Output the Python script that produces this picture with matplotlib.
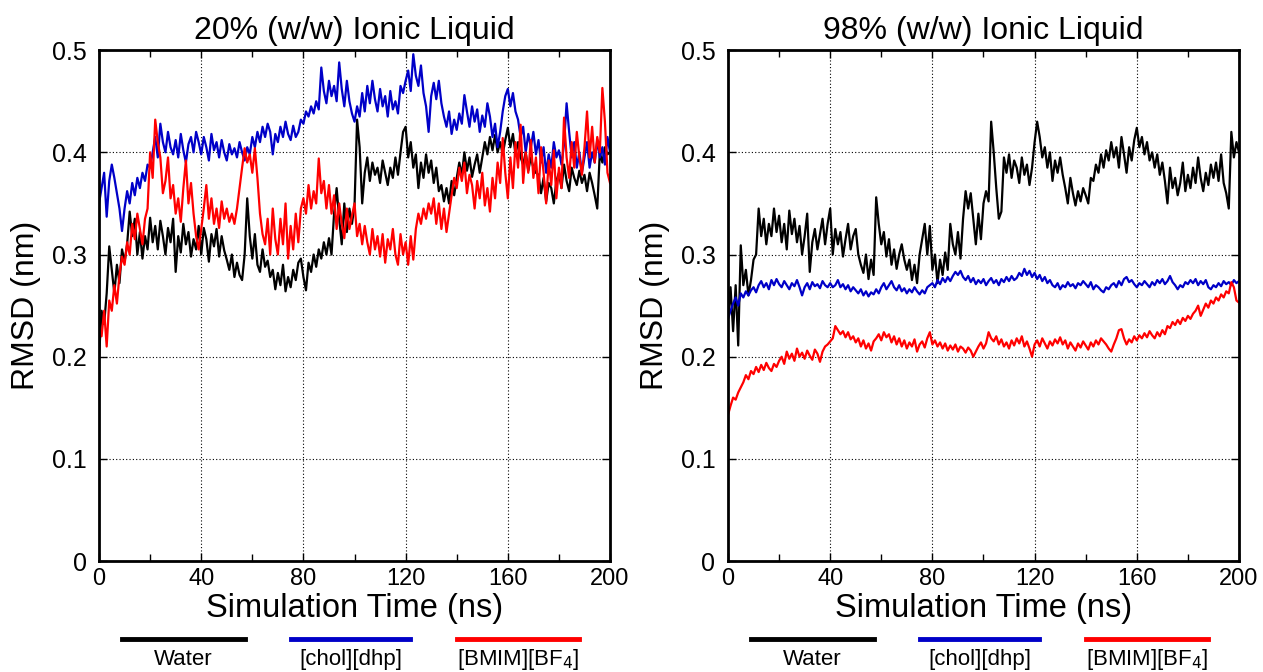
import numpy as np
import matplotlib
matplotlib.use("Agg")
import matplotlib.pyplot as plt

plt.rcParams['font.family'] = ['Liberation Sans', 'DejaVu Sans']

# ----------------------------------------
# data (RMSD in nm, one value per ns, 0..200 ns)
# ----------------------------------------
time_ns = np.arange(0, 201)

water_20 = [
	0.200, 0.245, 0.232, 0.262, 0.308, 0.285, 0.262, 0.290, 0.272, 0.305,
	0.293, 0.310, 0.342, 0.318, 0.335, 0.300, 0.322, 0.296, 0.318, 0.305,
	0.336, 0.312, 0.328, 0.305, 0.333, 0.318, 0.300, 0.326, 0.312, 0.335,
	0.283, 0.318, 0.302, 0.330, 0.310, 0.322, 0.298, 0.315, 0.305, 0.328,
	0.300, 0.326, 0.315, 0.293, 0.320, 0.308, 0.325, 0.298, 0.318, 0.304,
	0.295, 0.285, 0.300, 0.278, 0.292, 0.280, 0.275, 0.300, 0.355, 0.318,
	0.296, 0.320, 0.290, 0.283, 0.305, 0.288, 0.294, 0.278, 0.285, 0.266,
	0.282, 0.270, 0.290, 0.264, 0.278, 0.268, 0.285, 0.275, 0.292, 0.296,
	0.278, 0.265, 0.292, 0.283, 0.300, 0.288, 0.305, 0.296, 0.312, 0.300,
	0.316, 0.300, 0.340, 0.365, 0.335, 0.310, 0.350, 0.322, 0.345, 0.330,
	0.348, 0.432, 0.405, 0.350, 0.380, 0.395, 0.372, 0.390, 0.378, 0.385,
	0.370, 0.392, 0.380, 0.368, 0.385, 0.375, 0.395, 0.378, 0.400, 0.420,
	0.425, 0.395, 0.410, 0.385, 0.398, 0.365, 0.390, 0.375, 0.398, 0.380,
	0.392, 0.370, 0.385, 0.362, 0.368, 0.352, 0.365, 0.350, 0.372, 0.358,
	0.375, 0.390, 0.378, 0.400, 0.382, 0.395, 0.376, 0.388, 0.398, 0.380,
	0.395, 0.410, 0.398, 0.415, 0.402, 0.417, 0.400, 0.410, 0.398, 0.412,
	0.424, 0.405, 0.418, 0.398, 0.410, 0.395, 0.388, 0.400, 0.382, 0.395,
	0.385, 0.380, 0.378, 0.360, 0.375, 0.352, 0.370, 0.365, 0.350, 0.372,
	0.380, 0.365, 0.388, 0.372, 0.362, 0.385, 0.375, 0.368, 0.382, 0.370,
	0.378, 0.362, 0.380, 0.370, 0.358, 0.345, 0.400, 0.390, 0.405, 0.398,
	0.400]

chol_20 = [
	0.350, 0.365, 0.380, 0.337, 0.372, 0.388, 0.375, 0.360, 0.345, 0.323,
	0.345, 0.362, 0.350, 0.370, 0.358, 0.375, 0.365, 0.380, 0.372, 0.388,
	0.385, 0.400, 0.415, 0.395, 0.428, 0.410, 0.400, 0.420, 0.405, 0.398,
	0.412, 0.395, 0.418, 0.402, 0.390, 0.408, 0.415, 0.400, 0.420, 0.410,
	0.398, 0.415, 0.405, 0.392, 0.418, 0.402, 0.410, 0.395, 0.412, 0.400,
	0.392, 0.408, 0.398, 0.404, 0.395, 0.410, 0.400, 0.392, 0.405, 0.398,
	0.415, 0.405, 0.420, 0.410, 0.425, 0.415, 0.428, 0.420, 0.398, 0.418,
	0.410, 0.425, 0.415, 0.430, 0.418, 0.412, 0.426, 0.415, 0.420, 0.432,
	0.428, 0.440, 0.435, 0.445, 0.438, 0.450, 0.442, 0.483, 0.460, 0.448,
	0.470, 0.455, 0.465, 0.450, 0.488, 0.462, 0.445, 0.470, 0.450, 0.438,
	0.430, 0.445, 0.435, 0.458, 0.440, 0.465, 0.448, 0.470, 0.452, 0.440,
	0.462, 0.445, 0.455, 0.435, 0.460, 0.442, 0.450, 0.438, 0.465, 0.458,
	0.470, 0.480, 0.460, 0.496, 0.475, 0.465, 0.485, 0.458, 0.445, 0.420,
	0.455, 0.468, 0.452, 0.470, 0.448, 0.435, 0.425, 0.440, 0.418, 0.432,
	0.422, 0.438, 0.428, 0.456, 0.440, 0.425, 0.445, 0.430, 0.442, 0.420,
	0.436, 0.425, 0.448, 0.435, 0.415, 0.428, 0.405, 0.420, 0.440, 0.455,
	0.462, 0.445, 0.458, 0.440, 0.432, 0.415, 0.425, 0.400, 0.418, 0.405,
	0.420, 0.398, 0.412, 0.390, 0.405, 0.380, 0.398, 0.385, 0.410, 0.395,
	0.402, 0.388, 0.408, 0.448, 0.420, 0.395, 0.410, 0.385, 0.400, 0.380,
	0.395, 0.410, 0.385, 0.400, 0.390, 0.412, 0.395, 0.405, 0.388, 0.415,
	0.400]

bmim_20 = [
	0.230, 0.220, 0.245, 0.210, 0.255, 0.245, 0.270, 0.252, 0.280, 0.298,
	0.290, 0.312, 0.300, 0.330, 0.315, 0.340, 0.325, 0.310, 0.335, 0.345,
	0.400, 0.375, 0.432, 0.410, 0.395, 0.360, 0.372, 0.395, 0.355, 0.368,
	0.340, 0.355, 0.332, 0.365, 0.392, 0.350, 0.370, 0.340, 0.318, 0.305,
	0.325, 0.345, 0.368, 0.335, 0.355, 0.330, 0.345, 0.326, 0.352, 0.335,
	0.345, 0.332, 0.340, 0.330, 0.345, 0.365, 0.385, 0.404, 0.390, 0.398,
	0.380, 0.404, 0.375, 0.340, 0.320, 0.310, 0.335, 0.300, 0.345, 0.315,
	0.300, 0.335, 0.310, 0.350, 0.296, 0.328, 0.305, 0.340, 0.312, 0.345,
	0.355, 0.340, 0.368, 0.345, 0.362, 0.350, 0.394, 0.360, 0.372, 0.345,
	0.368, 0.340, 0.358, 0.325, 0.350, 0.330, 0.316, 0.345, 0.325, 0.338,
	0.350, 0.318, 0.330, 0.310, 0.328, 0.312, 0.300, 0.325, 0.305, 0.318,
	0.298, 0.320, 0.292, 0.315, 0.305, 0.325, 0.300, 0.290, 0.320, 0.300,
	0.312, 0.290, 0.318, 0.295, 0.325, 0.340, 0.330, 0.345, 0.335, 0.350,
	0.340, 0.355, 0.330, 0.350, 0.325, 0.345, 0.322, 0.340, 0.358, 0.375,
	0.365, 0.385, 0.372, 0.390, 0.360, 0.378, 0.368, 0.345, 0.372, 0.355,
	0.380, 0.348, 0.365, 0.342, 0.375, 0.355, 0.390, 0.370, 0.414, 0.380,
	0.355, 0.395, 0.365, 0.410, 0.385, 0.427, 0.370, 0.400, 0.380, 0.412,
	0.375, 0.395, 0.360, 0.405, 0.380, 0.350, 0.392, 0.368, 0.402, 0.355,
	0.385, 0.365, 0.434, 0.395, 0.375, 0.410, 0.385, 0.420, 0.395, 0.378,
	0.405, 0.440, 0.395, 0.425, 0.390, 0.415, 0.400, 0.463, 0.430, 0.380,
	0.370]

water_98 = [
	0.237, 0.268, 0.225, 0.270, 0.211, 0.309, 0.270, 0.285, 0.260, 0.275,
	0.295, 0.300, 0.345, 0.318, 0.335, 0.310, 0.330, 0.318, 0.345, 0.322,
	0.338, 0.312, 0.330, 0.305, 0.343, 0.320, 0.335, 0.312, 0.328, 0.300,
	0.318, 0.340, 0.283, 0.312, 0.325, 0.305, 0.320, 0.335, 0.310, 0.330,
	0.345, 0.300, 0.325, 0.310, 0.322, 0.298, 0.315, 0.330, 0.305, 0.318,
	0.325, 0.300, 0.290, 0.282, 0.300, 0.276, 0.295, 0.280, 0.356, 0.330,
	0.310, 0.322, 0.298, 0.315, 0.290, 0.305, 0.286, 0.300, 0.310, 0.295,
	0.285, 0.295, 0.275, 0.290, 0.272, 0.300, 0.315, 0.330, 0.300, 0.328,
	0.285, 0.300, 0.272, 0.295, 0.280, 0.302, 0.285, 0.330, 0.310, 0.300,
	0.322, 0.296, 0.335, 0.362, 0.345, 0.360, 0.335, 0.310, 0.340, 0.315,
	0.350, 0.362, 0.352, 0.430, 0.400, 0.365, 0.335, 0.342, 0.395, 0.380,
	0.398, 0.375, 0.392, 0.385, 0.370, 0.395, 0.378, 0.388, 0.368, 0.385,
	0.410, 0.430, 0.415, 0.395, 0.405, 0.385, 0.400, 0.372, 0.392, 0.380,
	0.395, 0.378, 0.365, 0.350, 0.375, 0.360, 0.348, 0.362, 0.352, 0.365,
	0.358, 0.350, 0.375, 0.372, 0.388, 0.380, 0.398, 0.385, 0.402, 0.392,
	0.410, 0.395, 0.405, 0.385, 0.415, 0.398, 0.380, 0.405, 0.392, 0.412,
	0.424, 0.405, 0.415, 0.398, 0.410, 0.392, 0.400, 0.385, 0.398, 0.378,
	0.390, 0.372, 0.350, 0.385, 0.365, 0.375, 0.358, 0.370, 0.390, 0.362,
	0.378, 0.365, 0.385, 0.370, 0.395, 0.375, 0.362, 0.380, 0.368, 0.388,
	0.375, 0.390, 0.372, 0.398, 0.370, 0.360, 0.345, 0.420, 0.395, 0.410,
	0.400]

chol_98 = [
	0.237, 0.245, 0.252, 0.258, 0.250, 0.262, 0.258, 0.264, 0.260, 0.265,
	0.268, 0.263, 0.270, 0.274, 0.268, 0.272, 0.266, 0.275, 0.270, 0.276,
	0.271, 0.268, 0.274, 0.270, 0.266, 0.272, 0.269, 0.275, 0.268, 0.260,
	0.268, 0.272, 0.266, 0.273, 0.269, 0.271, 0.267, 0.274, 0.270, 0.268,
	0.272, 0.268, 0.270, 0.275, 0.268, 0.271, 0.266, 0.270, 0.264, 0.268,
	0.265, 0.262, 0.266, 0.260, 0.264, 0.259, 0.263, 0.261, 0.266, 0.262,
	0.268, 0.272, 0.266, 0.270, 0.274, 0.268, 0.265, 0.270, 0.264, 0.267,
	0.262, 0.266, 0.263, 0.268, 0.264, 0.261, 0.265, 0.262, 0.268, 0.270,
	0.272, 0.268, 0.275, 0.271, 0.277, 0.273, 0.278, 0.274, 0.279, 0.283,
	0.280, 0.284, 0.278, 0.275, 0.279, 0.273, 0.277, 0.271, 0.275, 0.272,
	0.276, 0.270, 0.274, 0.277, 0.272, 0.275, 0.270, 0.276, 0.273, 0.278,
	0.274, 0.279, 0.275, 0.277, 0.282, 0.279, 0.286, 0.280, 0.284, 0.278,
	0.282, 0.276, 0.280, 0.274, 0.278, 0.272, 0.275, 0.270, 0.268, 0.272,
	0.266, 0.270, 0.268, 0.273, 0.269, 0.271, 0.267, 0.272, 0.270, 0.274,
	0.271, 0.268, 0.273, 0.266, 0.270, 0.268, 0.265, 0.263, 0.268, 0.266,
	0.270, 0.272, 0.268, 0.274, 0.270, 0.276, 0.278, 0.273, 0.275, 0.271,
	0.268, 0.272, 0.270, 0.274, 0.271, 0.268, 0.273, 0.270, 0.275, 0.272,
	0.276, 0.271, 0.274, 0.279, 0.273, 0.270, 0.266, 0.270, 0.268, 0.273,
	0.271, 0.275, 0.272, 0.276, 0.270, 0.274, 0.271, 0.275, 0.268, 0.266,
	0.270, 0.268, 0.272, 0.269, 0.274, 0.271, 0.273, 0.270, 0.275, 0.272,
	0.274]

bmim_98 = [
	0.143, 0.152, 0.160, 0.158, 0.165, 0.170, 0.175, 0.182, 0.178, 0.186,
	0.183, 0.190, 0.185, 0.192, 0.187, 0.194, 0.189, 0.186, 0.193, 0.190,
	0.196, 0.200, 0.193, 0.205, 0.198, 0.203, 0.196, 0.208, 0.200, 0.204,
	0.198, 0.206, 0.201, 0.197, 0.207, 0.203, 0.195, 0.205, 0.210, 0.212,
	0.215, 0.218, 0.230, 0.226, 0.222, 0.225, 0.219, 0.224, 0.217, 0.220,
	0.214, 0.218, 0.210, 0.216, 0.208, 0.213, 0.206, 0.215, 0.218, 0.222,
	0.216, 0.224, 0.219, 0.222, 0.214, 0.220, 0.212, 0.218, 0.210, 0.216,
	0.208, 0.214, 0.210, 0.217, 0.205, 0.212, 0.215, 0.209, 0.218, 0.224,
	0.212, 0.216, 0.210, 0.214, 0.208, 0.213, 0.206, 0.211, 0.207, 0.212,
	0.205, 0.210, 0.208, 0.204, 0.209, 0.206, 0.200, 0.205, 0.210, 0.214,
	0.208, 0.213, 0.224, 0.218, 0.215, 0.220, 0.212, 0.217, 0.210, 0.214,
	0.208, 0.216, 0.211, 0.218, 0.213, 0.220, 0.210, 0.215, 0.208, 0.200,
	0.212, 0.216, 0.210, 0.218, 0.213, 0.208, 0.215, 0.211, 0.217, 0.213,
	0.219, 0.212, 0.216, 0.208, 0.214, 0.210, 0.206, 0.213, 0.209, 0.215,
	0.211, 0.207, 0.214, 0.210, 0.216, 0.212, 0.218, 0.215, 0.212, 0.208,
	0.205, 0.212, 0.218, 0.226, 0.227, 0.218, 0.212, 0.217, 0.214, 0.220,
	0.216, 0.221, 0.218, 0.223, 0.219, 0.225, 0.221, 0.218, 0.224, 0.220,
	0.226, 0.222, 0.230, 0.228, 0.234, 0.231, 0.236, 0.232, 0.238, 0.235,
	0.240, 0.237, 0.242, 0.245, 0.250, 0.240, 0.246, 0.252, 0.248, 0.255,
	0.252, 0.258, 0.255, 0.261, 0.258, 0.264, 0.262, 0.273, 0.268, 0.255,
	0.253]

titles = ['20% (w/w) Ionic Liquid', '98% (w/w) Ionic Liquid']
labels = ['Water', '[chol][dhp]', '[BMIM][BF$_4$]']
colors = ['black', '#0000c8', '#ff0000']
x_ticks = [0, 40, 80, 120, 160, 200]
y_ticks = [0, 0.1, 0.2, 0.3, 0.4, 0.5]

panels = [(water_20, chol_20, bmim_20), (water_98, chol_98, bmim_98)]

# ----------------------------------------
# figure
# ----------------------------------------
fig = plt.figure(figsize=(12.63, 6.72), dpi=100)
ax_left = [0.0784, 0.5764]
legend_x = [(0.045, 0.285), (0.375, 0.609), (0.700, 0.940)]

for i, series in enumerate(panels):
	ax = fig.add_axes([ax_left[i], 0.165, 0.4046, 0.7604])
	for values, c in zip(series, colors):
		ax.plot(time_ns, values, color=c, lw=1.6)

	ax.set_xlim(0, 200)
	ax.set_ylim(0, 0.5)
	ax.set_xticks(x_ticks)
	ax.set_xticks([20, 60, 100, 140, 180], minor=True)
	ax.set_yticks(y_ticks)
	ax.set_yticklabels(['0', '0.1', '0.2', '0.3', '0.4', '0.5'])
	ax.tick_params(axis='x', labelsize=17, pad=5)
	ax.tick_params(axis='y', labelsize=18, pad=9)
	ax.tick_params(direction='in', top=True, right=True, length=6, width=1)
	ax.tick_params(which='minor', direction='in', top=True, length=5, width=1)
	ax.grid(True, color='black', linestyle=(0, (1, 2)), linewidth=0.8)
	for sp in ax.spines.values():
		sp.set_linewidth(2)

	ax.set_title(titles[i], fontsize=23, pad=8)
	ax.set_xlabel('Simulation Time (ns)', fontsize=23.5, labelpad=2)
	ax.set_ylabel('RMSD (nm)', fontsize=23, labelpad=8)

	# legend below the axes: line over label
	for (x0, x1), lab, c in zip(legend_x, labels, colors):
		ax.plot([x0, x1], [-0.153, -0.153], color=c, lw=3.5,
				transform=ax.transAxes, clip_on=False)
		ax.text((x0 + x1) / 2, -0.192, lab, transform=ax.transAxes,
				ha='center', va='center', fontsize=16)

fig.savefig('out.png', dpi=100)
